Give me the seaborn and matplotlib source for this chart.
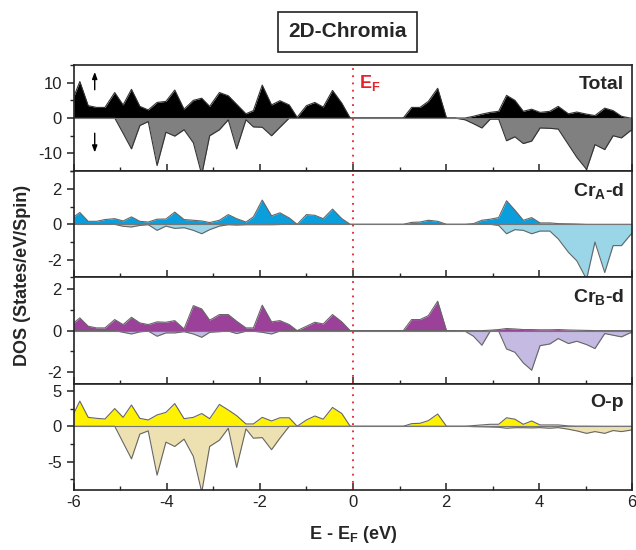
import matplotlib; matplotlib.use('Agg')
import matplotlib.pyplot as plt
import seaborn as sns
import numpy as np

# ── Data ─────────────────────────────────────────────────────────
energy = [-6.00, -5.87, -5.69, -5.51, -5.33, -5.12, -4.94, -4.76, -4.58, -4.40,
          -4.21, -4.02, -3.83, -3.63, -3.43, -3.25, -3.08, -2.87, -2.68, -2.50,
          -2.30, -2.14, -1.95, -1.75, -1.57, -1.37, -1.20, -1.00, -0.82, -0.64,
          -0.44, -0.24, -0.06,
          1.08, 1.26, 1.44, 1.62, 1.82, 2.01, 2.19, 2.41, 2.59, 2.77,
          2.95, 3.13, 3.30, 3.48, 3.66, 3.84, 4.02, 4.23, 4.41, 4.63,
          4.81, 5.02, 5.20, 5.41, 5.59, 5.77, 5.95, 6.00]

total_up = [6.0, 10.3, 3.5, 3.0, 3.0, 7.2, 3.7, 8.1, 3.3, 2.3, 4.4, 4.7, 7.9, 2.5,
            5.0, 5.6, 3.3, 7.2, 6.3, 3.9, 1.2, 2.1, 9.3, 3.7, 4.9, 3.7, 0.2, 3.5,
            4.4, 3.1, 7.8, 4.2, 0.0,
            0.0, 3.0, 3.0, 4.7, 8.4, 0.0, 0.0, 0.0, 0.5, 1.1, 1.6, 1.9, 6.4, 5.0,
            1.9, 2.5, 1.6, 1.9, 3.3, 1.2, 1.7, 1.1, 0.7, 2.8, 2.1, 0.5, 0.0, 0.0]
total_dn = [0.0, 0.0, 0.0, 0.0, 0.0, 0.0, -4.3, -8.7, -2.1, -1.0, -13.4, -4.0, -5.1,
            -3.3, -7.0, -16.0, -5.0, -3.3, -0.5, -8.7, -0.5, -2.5, -2.6, -5.0, -2.6,
            0.0, 0.0, 0.0, 0.0, 0.0, 0.0, 0.0, 0.0,
            0.0, 0.0, 0.0, 0.0, 0.0, 0.0, 0.0, -0.5, -1.6, -2.8, -0.3, -0.3, -6.4,
            -5.3, -7.2, -6.5, -2.8, -2.9, -3.1, -7.5, -11.1, -14.5, -7.5, -8.9, -5.0,
            -5.6, -3.7, -3.3]

cra_up = [0.42, 0.67, 0.17, 0.17, 0.27, 0.32, 0.19, 0.42, 0.17, 0.13, 0.29, 0.30,
          0.69, 0.27, 0.23, 0.19, 0.10, 0.23, 0.55, 0.32, 0.13, 0.42, 1.37, 0.48,
          0.65, 0.36, 0.0, 0.55, 0.51, 0.32, 0.86, 0.32, 0.0,
          0.0, 0.11, 0.13, 0.23, 0.17, 0.0, 0.0, 0.0, 0.04, 0.23, 0.29, 0.38, 1.33,
          0.80, 0.23, 0.38, 0.08, 0.08, 0.04, 0.03, 0.02, 0.0, 0.0, 0.0, 0.0, 0.0,
          0.0, 0.0]
cra_dn = [0.0, 0.0, 0.0, 0.0, 0.0, 0.0, -0.11, -0.15, -0.06, -0.02, -0.34, -0.10,
          -0.23, -0.19, -0.34, -0.53, -0.30, -0.10, -0.02, -0.04, -0.02, -0.02,
          -0.02, -0.02, -0.01, 0.0, 0.0, 0.0, 0.0, 0.0, 0.0, 0.0, 0.0,
          0.0, 0.0, 0.0, 0.0, 0.0, 0.0, 0.0, 0.0, 0.0, 0.0, 0.0, -0.06, -0.53,
          -0.30, -0.34, -0.53, -0.38, -0.38, -0.82, -1.58, -2.06, -3.1, -1.0,
          -2.72, -1.2, -1.2, -0.63, -0.5]

crb_up = [0.37, 0.61, 0.21, 0.13, 0.13, 0.53, 0.29, 0.64, 0.37, 0.29, 0.42, 0.40,
          0.48, 0.08, 1.20, 1.04, 0.50, 0.77, 0.77, 0.45, 0.13, 0.13, 1.22, 0.42,
          0.48, 0.29, 0.0, 0.21, 0.40, 0.32, 0.77, 0.42, 0.0,
          0.0, 0.53, 0.53, 0.72, 1.41, 0.0, 0.0, 0.0, 0.0, 0.0, 0.02, 0.05, 0.10,
          0.08, 0.05, 0.05, 0.04, 0.04, 0.05, 0.03, 0.02, 0.01, 0.0, 0.0, 0.0,
          0.0, 0.0, 0.0]
crb_dn = [0.0, 0.0, 0.0, 0.0, 0.0, 0.0, -0.08, -0.16, -0.06, -0.02, -0.27, -0.11,
          -0.11, -0.05, -0.16, -0.32, -0.08, -0.05, -0.02, -0.14, -0.03, -0.03,
          -0.08, -0.16, -0.02, 0.0, 0.0, 0.0, 0.0, 0.0, 0.0, 0.0, 0.0,
          0.0, 0.0, 0.0, 0.0, 0.0, 0.0, 0.0, -0.03, -0.27, -0.70, -0.02, -0.02,
          -0.88, -1.04, -1.55, -1.90, -0.72, -0.64, -0.38, -0.62, -0.51, -0.67,
          -0.86, -0.14, -0.22, -0.30, -0.11, -0.10]

op_up = [1.8, 3.55, 1.26, 1.12, 1.03, 2.5, 1.26, 3.0, 1.12, 0.89, 1.6, 1.96, 3.2,
         1.07, 1.26, 1.8, 1.07, 3.08, 2.3, 1.5, 0.33, 0.33, 1.26, 0.75, 1.2, 1.2,
         0.0, 0.89, 1.45, 1.0, 2.66, 1.8, 0.0,
         0.0, 0.37, 0.42, 0.8, 1.73, 0.0, 0.0, 0.0, 0.1, 0.19, 0.28, 0.28, 1.2,
         1.0, 0.28, 0.75, 0.19, 0.19, 0.19, 0.05, 0.02, 0.02, 0.01, 0.0, 0.0, 0.0,
         0.0, 0.0]
op_dn = [0.0, 0.0, 0.0, 0.0, 0.0, 0.0, -2.3, -4.6, -1.1, -0.65, -6.9, -2.24, -2.85,
         -1.82, -4.25, -9.3, -2.85, -1.96, -0.28, -5.8, -0.37, -1.68, -1.6, -3.3,
         -1.68, 0.0, 0.0, 0.0, 0.0, 0.0, 0.0, 0.0, 0.0,
         0.0, 0.0, 0.0, 0.0, 0.0, 0.0, 0.0, 0.0, -0.05, -0.07, -0.10, -0.14, -0.28,
         -0.20, -0.20, -0.23, -0.19, -0.28, -0.19, -0.42, -0.65, -1.0, -0.75, -1.0,
         -0.6, -0.75, -0.56, -0.5]

panel_labels = ['Total', r'Cr$_\mathbf{A}$-d', r'Cr$_\mathbf{B}$-d', 'O-p']

# ── Style ────────────────────────────────────────────────────────
sns.set_style('ticks')
plt.rcParams['font.family'] = ['Liberation Sans', 'DejaVu Sans']
plt.rcParams['mathtext.fontset'] = 'custom'
plt.rcParams['mathtext.rm'] = 'Liberation Sans'
plt.rcParams['mathtext.bf'] = 'Liberation Sans:bold'
plt.rcParams['axes.unicode_minus'] = False

panels = [
    (total_up, total_dn, '#000000', '#808080', '#333333', (-15, 15), [-10, 0, 10], 5),
    (cra_up, cra_dn, '#0A9EDC', '#9AD6E8', '#666666', (-3, 3), [-2, 0, 2], 1),
    (crb_up, crb_dn, '#9B4199', '#C4BAE2', '#666666', (-2.55, 2.55), [-2, 0, 2], 1),
    (op_up, op_dn, '#FFF200', '#EEE1B1', '#666666', (-9, 6), [-5, 0, 5], 2.5),
]

fig, axes = plt.subplots(4, 1, figsize=(6.36, 5.5), dpi=100, sharex=True)
fig.subplots_adjust(left=0.116, right=0.994, top=0.882, bottom=0.109, hspace=0)

for ax, (up, dn, c_up, c_dn, c_edge, ylim, yt, ymin), lab in zip(axes, panels, panel_labels):
    ax.fill_between(energy, 0, dn, color=c_dn, lw=0)
    ax.fill_between(energy, 0, up, color=c_up, lw=0)
    sns.lineplot(x=energy, y=dn, ax=ax, color=c_edge, lw=0.8, sort=False)
    sns.lineplot(x=energy, y=up, ax=ax, color=c_edge, lw=0.8, sort=False)
    ax.axhline(0, color='#777777', lw=0.8)
    ax.axvline(0, color='#E8202A', lw=1.3, ls=(0, (1, 3)))
    ax.set_xlim(-6, 6)
    ax.set_ylim(*ylim)
    ax.set_yticks(yt)
    ax.yaxis.set_minor_locator(matplotlib.ticker.MultipleLocator(ymin))
    ax.xaxis.set_minor_locator(matplotlib.ticker.MultipleLocator(1))
    ax.tick_params(axis='x', which='both', direction='in', top=False)
    ax.tick_params(axis='x', which='major', length=5, width=1.1)
    ax.tick_params(axis='x', which='minor', length=3, width=1.0)
    ax.tick_params(axis='y', which='major', direction='out', length=5, width=1.1,
                   labelsize=12, colors='#222222')
    ax.tick_params(axis='y', which='minor', direction='out', length=3, width=1.0)
    for s in ax.spines.values():
        s.set_linewidth(1.2)
        s.set_color('#222222')
    ax.text(0.985, 0.9, lab, transform=ax.transAxes, ha='right', va='top',
            fontsize=14, fontweight='bold')

axes[-1].set_xticks([-6, -4, -2, 0, 2, 4, 6])
axes[-1].tick_params(axis='x', labelsize=12, colors='#222222')
axes[-1].set_xlabel(r'E - E$_\mathbf{F}$ (eV)', fontsize=13, fontweight='bold', labelpad=10)
fig.text(0.035, 0.5, 'DOS (States/eV/Spin)', rotation=90, ha='center', va='center',
         fontsize=13, fontweight='bold')

# spin arrows and Fermi level label in the top panel
ax0 = axes[0]
ax0.annotate('', xy=(-5.55, 13.8), xytext=(-5.55, 7.2),
             arrowprops=dict(arrowstyle='-|>,head_length=0.4,head_width=0.15', color='black', lw=1.0))
ax0.annotate('', xy=(-5.55, -10.5), xytext=(-5.55, -3.5),
             arrowprops=dict(arrowstyle='-|>,head_length=0.4,head_width=0.15', color='black', lw=1.0))
ax0.text(0.12, 10.0, r'E$_\mathbf{F}$', color='#E8202A', fontsize=13, fontweight='bold',
         ha='left', va='center')

fig.text(0.546, 0.942, '2D-Chromia', ha='center', va='center', fontsize=15,
         fontweight='bold',
         bbox=dict(boxstyle='square,pad=0.5', fc='white', ec='#222222', lw=1.2))

plt.savefig('out.png', dpi=100)
